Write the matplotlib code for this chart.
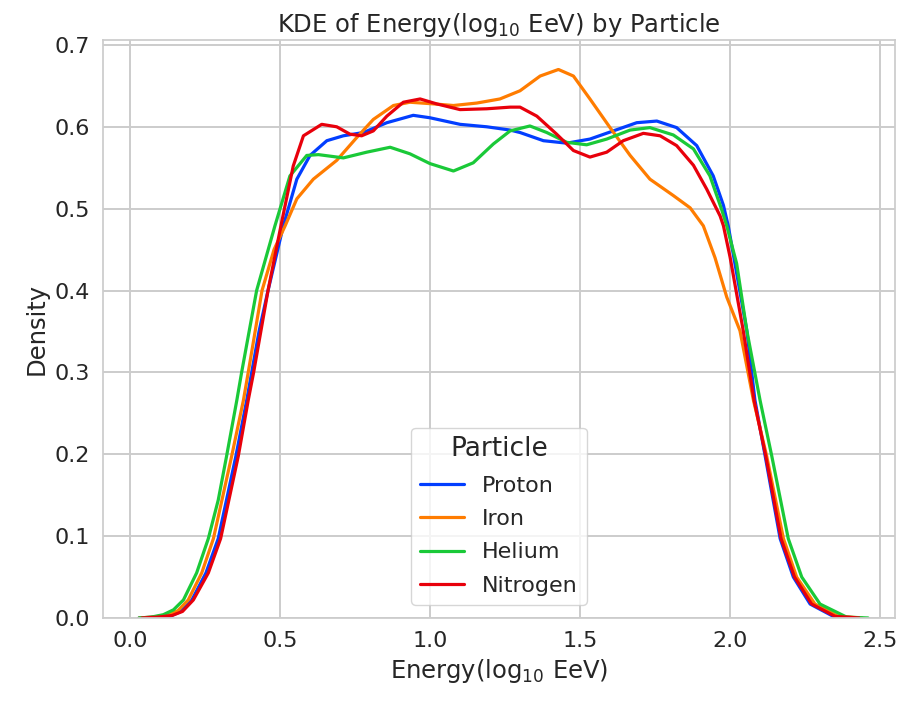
import matplotlib
matplotlib.use("Agg")
import matplotlib.pyplot as plt
import seaborn as sns

# curve points (x = log10 EeV, y = density)
proton_x = [0.03, 0.08, 0.133, 0.170, 0.206, 0.253, 0.294, 0.353, 0.389, 0.43,
            0.46, 0.511, 0.556, 0.6, 0.656, 0.711, 0.778, 0.856, 0.944, 1.0,
            1.1, 1.189, 1.267, 1.3, 1.378, 1.456, 1.533, 1.611, 1.689, 1.756,
            1.822, 1.889, 1.944, 1.978, 1.994, 2.025, 2.056, 2.083, 2.117, 2.167,
            2.211, 2.267, 2.344, 2.42]
proton_y = [0.0, 0.001, 0.002, 0.008, 0.022, 0.055, 0.097, 0.198, 0.266, 0.35,
            0.40, 0.479, 0.536, 0.565, 0.583, 0.589, 0.593, 0.605, 0.614, 0.611,
            0.603, 0.600, 0.596, 0.593, 0.583, 0.580, 0.585, 0.595, 0.605, 0.607,
            0.599, 0.577, 0.540, 0.504, 0.479, 0.415, 0.351, 0.266, 0.198, 0.097,
            0.05, 0.017, 0.002, 0.0]

iron_x = [0.03, 0.07, 0.122, 0.160, 0.194, 0.239, 0.278, 0.339, 0.378, 0.394,
          0.44, 0.48, 0.517, 0.556, 0.611, 0.689, 0.756, 0.811, 0.878, 0.933,
          1.011, 1.078, 1.156, 1.233, 1.3, 1.367, 1.428, 1.478, 1.533, 1.6,
          1.667, 1.733, 1.811, 1.867, 1.911, 1.95, 1.989, 2.033, 2.078, 2.122,
          2.178, 2.222, 2.283, 2.36, 2.44]
iron_y = [0.0, 0.001, 0.003, 0.009, 0.022, 0.055, 0.097, 0.198, 0.266, 0.30,
          0.40, 0.45, 0.479, 0.512, 0.536, 0.559, 0.587, 0.609, 0.626, 0.630,
          0.628, 0.626, 0.629, 0.634, 0.644, 0.662, 0.670, 0.662, 0.634, 0.599,
          0.565, 0.536, 0.516, 0.501, 0.479, 0.44, 0.392, 0.351, 0.266, 0.198,
          0.097, 0.05, 0.017, 0.002, 0.0]

helium_x = [0.03, 0.07, 0.111, 0.145, 0.178, 0.222, 0.261, 0.294, 0.322, 0.356,
            0.372, 0.422, 0.483, 0.533, 0.589, 0.628, 0.711, 0.789, 0.867, 0.933,
            1.0, 1.078, 1.144, 1.211, 1.267, 1.333, 1.389, 1.456, 1.522, 1.589,
            1.667, 1.733, 1.811, 1.878, 1.933, 1.972, 1.989, 2.022, 2.056, 2.1,
            2.139, 2.194, 2.239, 2.3, 2.389, 2.46]
helium_y = [0.0, 0.001, 0.004, 0.010, 0.022, 0.055, 0.097, 0.144, 0.198, 0.266,
            0.30, 0.40, 0.479, 0.540, 0.565, 0.566, 0.562, 0.569, 0.575, 0.567,
            0.555, 0.546, 0.556, 0.579, 0.595, 0.601, 0.593, 0.581, 0.578, 0.585,
            0.596, 0.599, 0.590, 0.573, 0.540, 0.499, 0.479, 0.433, 0.351, 0.266,
            0.198, 0.097, 0.05, 0.017, 0.001, 0.0]

nitrogen_x = [0.04, 0.09, 0.14, 0.175, 0.211, 0.261, 0.302, 0.361, 0.394, 0.412,
              0.46, 0.503, 0.544, 0.578, 0.639, 0.689, 0.733, 0.772, 0.811, 0.856,
              0.911, 0.967, 1.022, 1.1, 1.189, 1.267, 1.3, 1.356, 1.422, 1.478,
              1.533, 1.589, 1.644, 1.711, 1.767, 1.822, 1.878, 1.922, 1.967, 1.978,
              2.0, 2.044, 2.08, 2.119, 2.17, 2.215, 2.272, 2.35, 2.43]
nitrogen_y = [0.0, 0.001, 0.003, 0.008, 0.022, 0.055, 0.097, 0.198, 0.266, 0.30,
              0.40, 0.479, 0.552, 0.589, 0.603, 0.600, 0.591, 0.589, 0.595, 0.613,
              0.630, 0.634, 0.628, 0.621, 0.622, 0.624, 0.624, 0.613, 0.591, 0.571,
              0.563, 0.569, 0.583, 0.592, 0.589, 0.577, 0.553, 0.524, 0.491, 0.479,
              0.441, 0.351, 0.266, 0.198, 0.097, 0.05, 0.017, 0.002, 0.0]

particles = ["Proton", "Iron", "Helium", "Nitrogen"]
xs = [proton_x, iron_x, helium_x, nitrogen_x]
ys = [proton_y, iron_y, helium_y, nitrogen_y]

sns.set_theme(style="whitegrid")
colors = sns.color_palette("bright", 4)

fig = plt.figure(figsize=(8.99, 7.02), dpi=100)
ax = fig.add_axes([0.1146, 0.1197, 0.881, 0.8233])

for name, x, y, c in zip(particles, xs, ys, colors):
    ax.plot(x, y, color=c, lw=2.3, label=name, solid_joinstyle="round")

ax.set_xlim(-0.09, 2.55)
ax.set_ylim(0, 0.706)
ax.set_xticks([0.0, 0.5, 1.0, 1.5, 2.0, 2.5])
ax.grid(lw=1.4)
ax.tick_params(labelsize=16)
ax.set_xlabel(r"Energy(log$_{10}$ EeV)", fontsize=17.5)
ax.set_ylabel("Density", fontsize=17.5)
ax.set_title(r"KDE of Energy(log$_{10}$ EeV) by Particle", fontsize=17.5)
ax.legend(title="Particle", loc="lower center", fontsize=16, title_fontsize=19,
          labelspacing=0.6, borderaxespad=0.6)

fig.savefig("out.png", dpi=100)
